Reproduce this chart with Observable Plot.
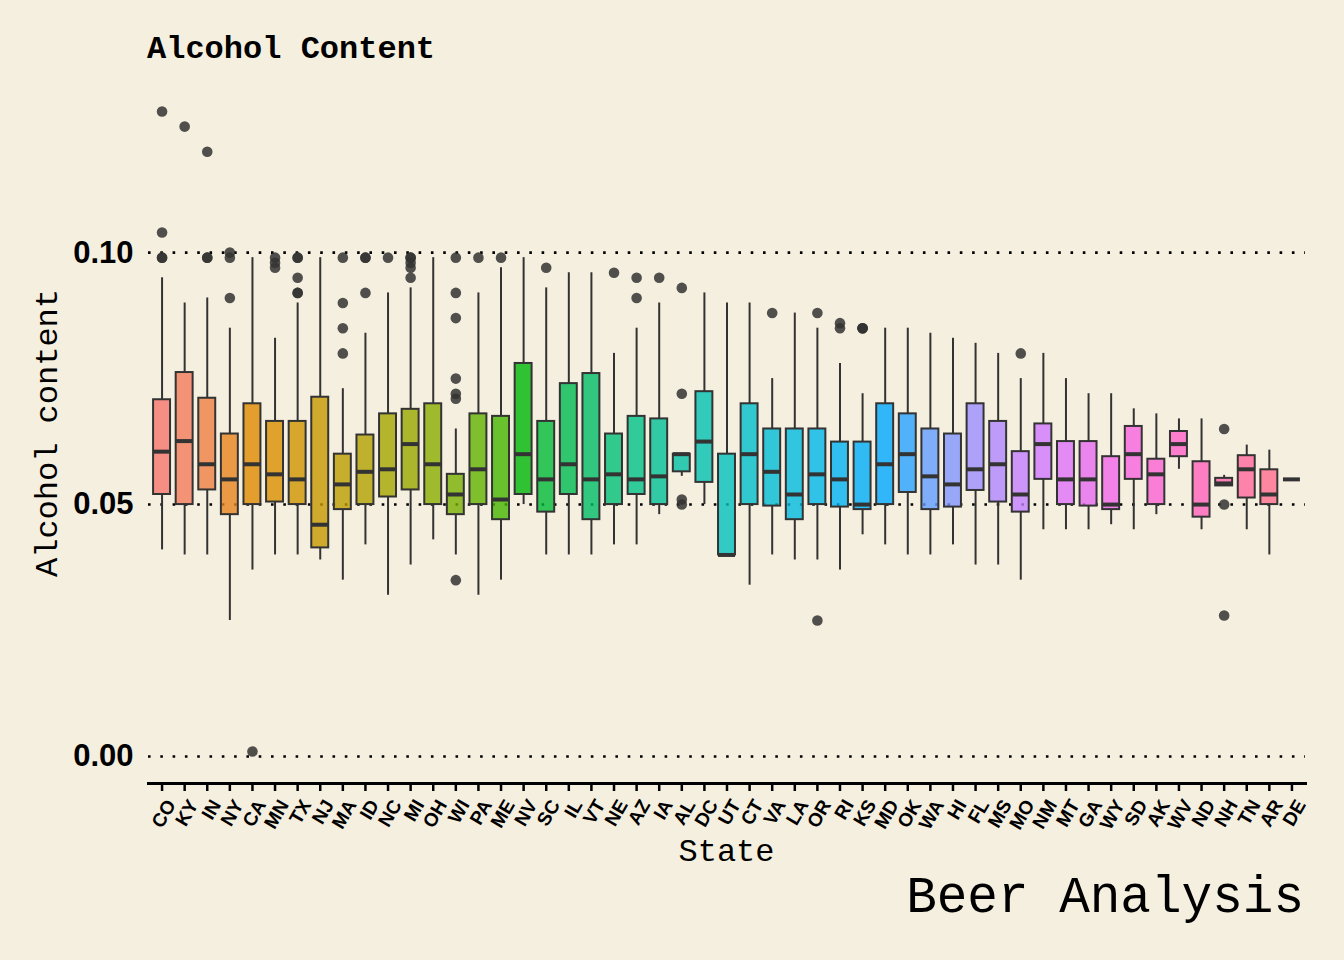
<!DOCTYPE html>
<html>
<head>
<meta charset="utf-8">
<script src="https://cdn.jsdelivr.net/npm/d3@7"></script>
<script src="https://cdn.jsdelivr.net/npm/@observablehq/plot@0.6"></script>
<style>
  html, body { margin: 0; padding: 0; background: #F5EFDF; }
  #page { width: 1344px; height: 960px; overflow: hidden; background: #F5EFDF; }
  #title { height: 70px; box-sizing: border-box; padding-top: 34px; padding-left: 147px;
           font: bold 32px/32px "Liberation Mono", monospace; color: #000; white-space: pre; }
  #caption { box-sizing: border-box; padding-top: 3px; padding-right: 40px; text-align: right;
             font: 51px/51px "Liberation Mono", monospace; color: #000; white-space: pre; }
  svg { display: block; }
</style>
</head>
<body>
<div id="page">
  <div id="title">Alcohol Content</div>
  <div id="chart"></div>
  <div id="caption">Beer Analysis</div>
</div>
<script>
// ---- data ----
const states = ["CO","KY","IN","NY","CA","MN","TX","NJ","MA","ID","NC","MI","OH","WI","PA","ME","NV","SC","IL","VT","NE","AZ","IA","AL","DC","UT","CT","VA","LA","OR","RI","KS","MD","OK","WA","HI","FL","MS","MO","NM","MT","GA","WY","SD","AK","WV","ND","NH","TN","AR","DE"];
const lower  = [0.041,0.040,0.040,0.027,0.037,0.040,0.040,0.039,0.035,0.042,0.032,0.038,0.043,0.040,0.032,0.035,0.050,0.040,0.040,0.040,0.042,0.042,0.048,0.0556,0.050,0.040,0.034,0.040,0.039,0.039,0.037,0.044,0.042,0.040,0.040,0.042,0.038,0.038,0.035,0.045,0.045,0.045,0.046,0.045,0.048,0.057,0.045,0.0537,0.045,0.040,0.055];
const q1     = [0.052,0.050,0.0529,0.048,0.050,0.0505,0.050,0.0414,0.049,0.050,0.0515,0.0529,0.050,0.048,0.050,0.047,0.052,0.0485,0.052,0.047,0.050,0.052,0.050,0.0565,0.0544,0.040,0.050,0.0497,0.047,0.050,0.0495,0.049,0.050,0.0524,0.049,0.0495,0.0528,0.0505,0.0485,0.055,0.050,0.0497,0.049,0.055,0.050,0.0595,0.0475,0.0537,0.0513,0.050,0.055];
const median = [0.0605,0.0626,0.058,0.055,0.058,0.056,0.055,0.046,0.054,0.0565,0.057,0.062,0.058,0.052,0.057,0.051,0.060,0.055,0.058,0.055,0.056,0.055,0.0556,0.060,0.0625,0.040,0.060,0.0565,0.052,0.056,0.055,0.050,0.058,0.060,0.0556,0.054,0.057,0.058,0.052,0.062,0.055,0.055,0.050,0.060,0.056,0.062,0.050,0.0542,0.057,0.052,0.055];
const q3     = [0.0708,0.0762,0.0711,0.064,0.070,0.0665,0.0665,0.0713,0.060,0.0638,0.068,0.0689,0.070,0.056,0.068,0.0675,0.078,0.0665,0.074,0.076,0.064,0.0675,0.067,0.060,0.0724,0.060,0.070,0.065,0.065,0.065,0.0624,0.0624,0.070,0.068,0.065,0.064,0.070,0.0665,0.0605,0.066,0.0625,0.0625,0.0595,0.0655,0.059,0.0645,0.0585,0.0552,0.0597,0.0569,0.055];
const upper  = [0.095,0.090,0.091,0.085,0.099,0.083,0.090,0.099,0.073,0.084,0.092,0.093,0.099,0.065,0.092,0.097,0.099,0.093,0.096,0.096,0.080,0.085,0.090,0.060,0.092,0.090,0.090,0.075,0.088,0.085,0.078,0.072,0.085,0.085,0.084,0.083,0.082,0.080,0.075,0.080,0.075,0.072,0.072,0.069,0.068,0.067,0.067,0.0558,0.0618,0.0608,0.055];
const outlierState = ["CO","CO","CO","CO","KY","IN","IN","IN","NY","NY","NY","CA","MN","MN","MN","TX","TX","TX","TX","TX","MA","MA","MA","MA","ID","ID","ID","NC","MI","MI","MI","MI","MI","WI","WI","WI","WI","WI","WI","WI","PA","ME","SC","NE","AZ","AZ","IA","AL","AL","AL","AL","VA","OR","OR","RI","RI","KS","KS","KS","MO","NH","NH","NH"];
const outlierValue = [0.128,0.104,0.099,0.099,0.125,0.120,0.099,0.099,0.100,0.099,0.091,0.001,0.099,0.098,0.097,0.099,0.099,0.095,0.092,0.092,0.099,0.090,0.085,0.080,0.099,0.099,0.092,0.099,0.099,0.099,0.098,0.097,0.095,0.099,0.092,0.087,0.075,0.072,0.071,0.035,0.099,0.099,0.097,0.096,0.095,0.091,0.095,0.093,0.072,0.051,0.050,0.088,0.088,0.027,0.086,0.085,0.085,0.085,0.085,0.080,0.065,0.050,0.028];
const yTicks = [0, 0.05, 0.10];

// ---- ggplot-style hue palette (polar LUV -> sRGB) ----
function hclHex(h, c, l) {
  const XN = 95.047, YN = 100, ZN = 108.883;
  const t = XN + YN + ZN, x = XN / t, y = YN / t;
  const uN = 2 * x / (6 * y - x + 1.5), vN = 4.5 * y / (6 * y - x + 1.5);
  const hr = h * Math.PI / 180, U = c * Math.cos(hr), V = c * Math.sin(hr);
  const Y = YN * (l > 7.999592 ? Math.pow((l + 16) / 116, 3) : l / 903.3);
  const u = U / (13 * l) + uN, v = V / (13 * l) + vN;
  const X = 9 * Y * u / (4 * v), Z = -X / 3 - 5 * Y + 3 * Y / v;
  const g = q => { q = q > 0.00304 ? 1.055 * Math.pow(q, 1 / 2.4) - 0.055 : 12.92 * q; return Math.round(255 * Math.max(0, Math.min(1, q))); };
  const r = g((3.240479 * X - 1.537150 * Y - 0.498535 * Z) / YN);
  const gg = g((-0.969256 * X + 1.875992 * Y + 0.041556 * Z) / YN);
  const b = g((0.055648 * X - 0.204043 * Y + 1.057311 * Z) / YN);
  return d3.rgb(r, gg, b).formatHex();
}
const palette = states.map((_, i) => hclHex(15 + i * 360 / states.length, 100, 65));

// ---- tables ----
const rows = states.map((s, i) => ({state: s, lo: lower[i], q1: q1[i], med: median[i], q3: q3[i], hi: upper[i]}));
const outliers = outlierState.map((s, i) => ({state: s, v: outlierValue[i]}));

const allVals = [...lower, ...upper, ...outlierValue];
const [vmin, vmax] = d3.extent(allVals);
const pad = (vmax - vmin) * 0.05;

const ink = "#333333";
const sans = "'Liberation Sans', Arial, Helvetica, sans-serif";
const mono = "'Liberation Mono', 'Courier New', monospace";

const chart = Plot.plot({
  width: 1344,
  height: 800,
  marginTop: 9,
  marginBottom: 87,
  marginLeft: 148,
  marginRight: 39,
  style: {background: "transparent", color: "#000", overflow: "visible"},
  x: {type: "band", domain: states, paddingInner: 0.25, paddingOuter: 0.225},
  y: {domain: [vmin - pad, vmax + pad]},
  color: {type: "ordinal", domain: states, range: palette},
  marks: [
    Plot.gridY(yTicks, {stroke: "#000", strokeOpacity: 1, strokeWidth: 2.6, strokeDasharray: "2.6 9.7"}),
    Plot.ruleX(rows, {x: "state", y1: "q3", y2: "hi", stroke: ink, strokeWidth: 2}),
    Plot.ruleX(rows, {x: "state", y1: "lo", y2: "q1", stroke: ink, strokeWidth: 2}),
    Plot.barY(rows, {x: "state", y1: "q1", y2: "q3", fill: "state", fillOpacity: 0.8, stroke: ink, strokeWidth: 2}),
    Plot.tickY(rows, {x: "state", y: "med", stroke: ink, strokeWidth: 4}),
    Plot.dot(outliers, {x: "state", y: "v", r: 5.3, fill: ink, fillOpacity: 0.85, stroke: "none"}),
    Plot.frame({anchor: "bottom", stroke: "#000", strokeWidth: 3}),
    Plot.axisY({ticks: yTicks, tickFormat: ".2f", tickSize: 0, tickPadding: 15, fontSize: 31, fontWeight: "bold", fontFamily: sans, fill: "#000", label: null}),
    Plot.axisX({tickSize: 8, strokeWidth: 2.5, stroke: "#000", tickFormat: () => "", label: null}),
    Plot.axisX({tickSize: 0, tickPadding: 0, tickRotate: -60, dx: 9, dy: 18, fontSize: 19, fontWeight: "bold", fontFamily: sans, fill: "#000", label: null})
  ]
});
document.getElementById("chart").appendChild(chart);

// axis titles
const svg = d3.select(chart);
svg.append("text")
  .attr("transform", "translate(57,363) rotate(-90)")
  .attr("text-anchor", "middle")
  .style("font", "32px " + mono).attr("fill", "#000")
  .text("Alcohol content");
svg.append("text")
  .attr("x", (148 + 1305) / 2).attr("y", 791)
  .attr("text-anchor", "middle")
  .style("font", "32px " + mono).attr("fill", "#000")
  .text("State");
</script>
</body>
</html>
